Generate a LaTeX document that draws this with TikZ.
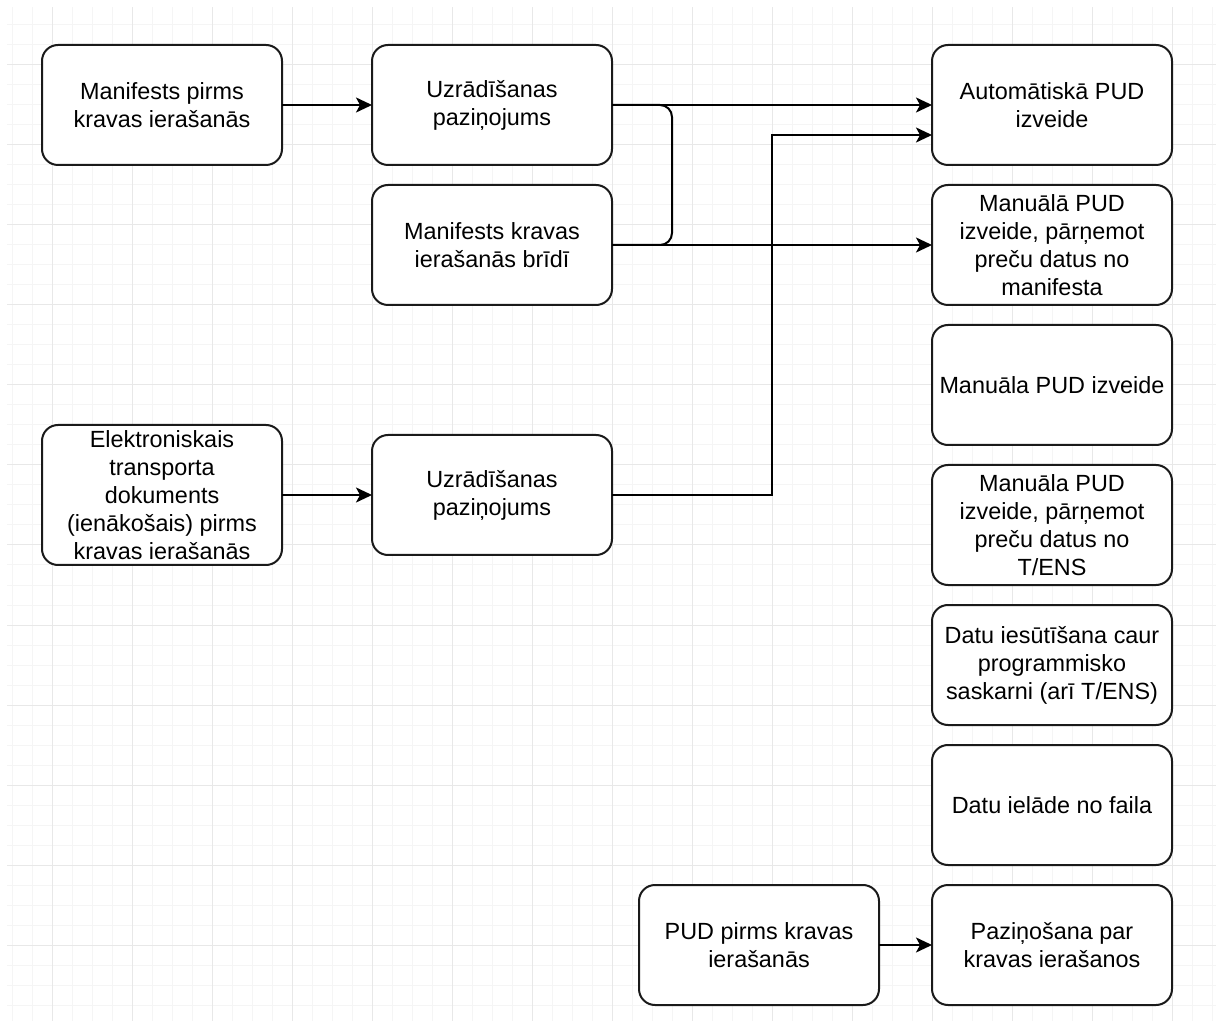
\documentclass[tikz,border=0pt]{standalone}
\usepackage{fontspec}
\setmainfont{Liberation Sans}
\usepackage{xcolor}
\usepackage{tikz}
\usetikzlibrary{arrows.meta,positioning}
\definecolor{pudLine}{HTML}{1A1A1A}
\definecolor{pudGridMinor}{HTML}{F5F5F5}
\definecolor{pudGridMajor}{HTML}{E8E8E8}

\begin{document}
\begin{tikzpicture}[
  node distance=10pt and 45pt,
  box/.style={rectangle,rounded corners=8pt,draw=pudLine,fill=white,line width=1pt,outer sep=0pt,align=center,minimum width=120pt,minimum height=60pt,inner sep=1pt,font=\fontsize{11.7}{14}\selectfont},
  arrow/.style={-{Stealth[length=8pt,width=7.5pt,inset=2pt]},line width=1pt,color=black},
  link/.style={line width=1pt,color=black},
  gridline/.style={line width=0.5pt}
]
\useasboundingbox (0,0) rectangle (608pt,-510.5pt);
% background grid
\begin{scope}
\clip (3.5pt,-4pt) rectangle (608pt,-510.5pt);
\foreach \gx in {6,16,...,606} \draw[gridline,pudGridMinor] (\gx pt,0) -- (\gx pt,-511pt);
\foreach \gy in {2.5,12.5,...,512.5} \draw[gridline,pudGridMinor] (0,-\gy pt) -- (608pt,-\gy pt);
\foreach \gx in {26,66,...,606} \draw[gridline,pudGridMajor] (\gx pt,0) -- (\gx pt,-511pt);
\foreach \gy in {32.5,72.5,...,512.5} \draw[gridline,pudGridMajor] (0,-\gy pt) -- (608pt,-\gy pt);
\end{scope}
\node[box] (a1) at (81pt,-52.5pt) {Manifests pirms\\kravas ierašanās};
\node[box,right=of a1] (b1) {Uzrādīšanas\\paziņojums};
\node[box,below=of b1] (b2) {Manifests kravas\\ierašanās brīdī};
\node[box,right=160pt of b1] (c1) {Automātiskā PUD\\izveide};
\node[box,below=of c1] (c2) {Manuālā PUD\\izveide, pārņemot\\preču datus no\\manifesta};
\node[box,below=of c2] (c3) {Manuāla PUD izveide};
\node[box,below=of c3] (c4) {Manuāla PUD\\izveide, pārņemot\\preču datus no\\T/ENS};
\node[box,below=of c4] (c5) {Datu iesūtīšana caur\\programmisko\\saskarni (arī T/ENS)};
\node[box,below=of c5] (c6) {Datu ielāde no faila};
\node[box,below=of c6] (c7) {Paziņošana par\\kravas ierašanos};
\node[box,left=26.5pt of c7] (d) {PUD pirms kravas\\ierašanās};
\node[box,minimum height=70pt,below=130pt of a1] (a2) {Elektroniskais\\transporta\\dokuments\\(ienākošais) pirms\\kravas ierašanās};
\node[box,right=of a2] (b3) {Uzrādīšanas\\paziņojums};
\coordinate (c1in) at ([yshift=-15pt]c1.west);
\draw[arrow] (a1) -- (b1);
\draw[arrow] (b1) -- (c1);
\draw[arrow] (b2) -- (c2);
\draw[link,rounded corners=6pt] (b1.east) -- ++(30pt,0) |- (b2.east);
\draw[arrow] (b3.east) -- ++(80pt,0) |- (c1in);
\draw[arrow] (a2) -- (b3);
\draw[arrow] (d) -- (c7);
\end{tikzpicture}
\end{document}
